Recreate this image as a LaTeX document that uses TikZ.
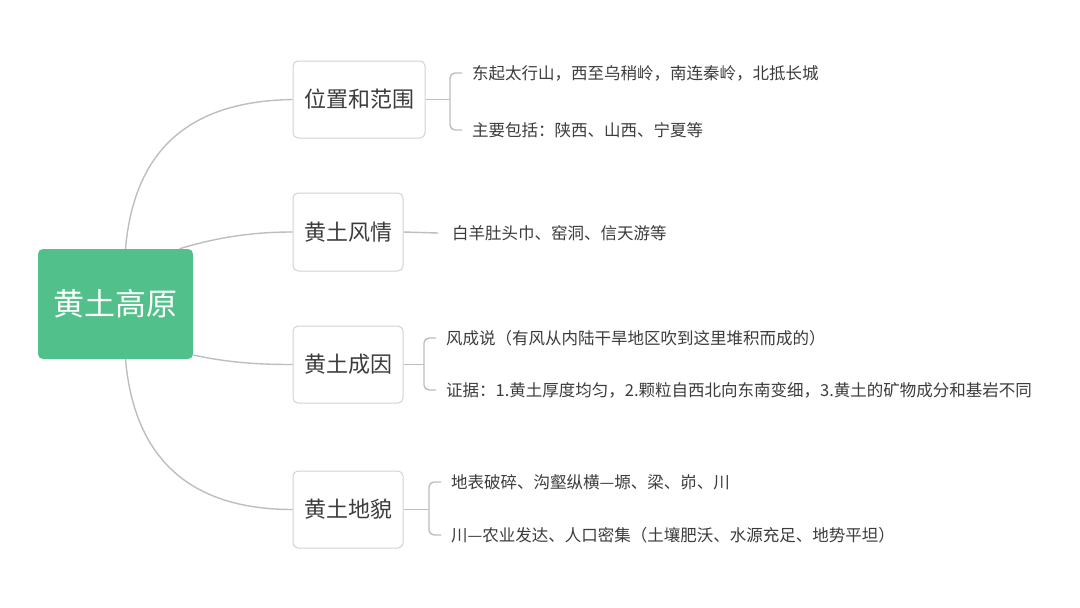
\documentclass[tikz,border=0pt]{standalone}
\usepackage{fontspec}
\setmainfont{Noto Sans CJK SC}
\usetikzlibrary{calc}
\definecolor{rootgreen}{RGB}{82,192,138}
\definecolor{conncol}{RGB}{190,190,190}
\definecolor{boxline}{RGB}{210,210,210}
\definecolor{txt}{RGB}{60,60,60}
\tikzset{
  conn/.style={draw=conncol, line width=1.4pt},
  topic/.style={draw=boxline, line width=1pt, rounded corners=5pt, fill=white, text=txt, font=\fontsize{22}{26}\selectfont, inner sep=0pt},
  leaf/.style={anchor=west, inner sep=0pt, text=txt, font=\fontsize{16.5}{20}\selectfont},
  rootbox/.style={fill=rootgreen, rounded corners=5pt, text=white, font=\fontsize{31}{36}\selectfont, inner sep=0pt, minimum width=155pt, minimum height=110pt}
}
\begin{document}
\begin{tikzpicture}[x=1pt,y=-1pt]
\useasboundingbox[fill=white] (0,0) rectangle (1080,608);
% root
\node[rootbox] (root) at (115.5,304) {黄土高原};
% topics
\node[topic, minimum width=132pt, minimum height=77pt] (b1) at (359,99.5) {位置和范围};
\node[topic, minimum width=110pt, minimum height=78pt] (b2) at (348,232) {黄土风情};
\node[topic, minimum width=110pt, minimum height=77pt] (b3) at (348,364.5) {黄土成因};
\node[topic, minimum width=110pt, minimum height=77pt] (b4) at (348,509.5) {黄土地貌};
% root connectors
\draw[conn] ([xshift=10pt]root.north) .. controls (135,140) and (200,101) .. (b1.west);
\draw[conn] ([xshift=64pt]root.north) .. controls (215,238) and (250,232) .. (b2.west);
\draw[conn] ([yshift=-51pt]root.east) .. controls (230,363) and (260,364.5) .. (b3.west);
\draw[conn] ([xshift=10pt]root.south) .. controls (135,468) and (200,509.5) .. (b4.west);
% leaves
\node[leaf] (l11) at (472,73) {东起太行山，西至乌稍岭，南连秦岭，北抵长城};
\node[leaf] (l12) at (472,130) {主要包括：陕西、山西、宁夏等};
\node[leaf] (l21) at (452,233) {白羊肚头巾、窑洞、信天游等};
\node[leaf] (l31) at (446,338) {风成说（有风从内陆干旱地区吹到这里堆积而成的）};
\node[leaf] (l32) at (446,390) {证据：1.黄土厚度均匀，2.颗粒自西北向东南变细，3.黄土的矿物成分和基岩不同};
\node[leaf] (l41) at (451,482) {地表破碎、沟壑纵横—塬、梁、峁、川};
\node[leaf] (l42) at (451,535) {川—农业发达、人口密集（土壤肥沃、水源充足、地势平坦）};
% brackets
\foreach \b/\a/\c in {b1/l11/l12, b3/l31/l32, b4/l41/l42}{
  \coordinate (\b t) at ($(\a.west)+(-10,0)$);
  \coordinate (\b u) at ($(\a.west)+(-22,0)$);
  \coordinate (\b v) at ($(\c.west)+(-22,0)$);
  \coordinate (\b w) at ($(\c.west)+(-10,0)$);
  \draw[conn, rounded corners=5pt] (\b t) -- (\b u) -- (\b v) -- (\b w);
  \draw[conn] (\b.east) -- (\b.east -| \b u);
}
\draw[conn] (b2.east) -- ($(l21.west)+(-14,0)$);
\end{tikzpicture}
\end{document}
